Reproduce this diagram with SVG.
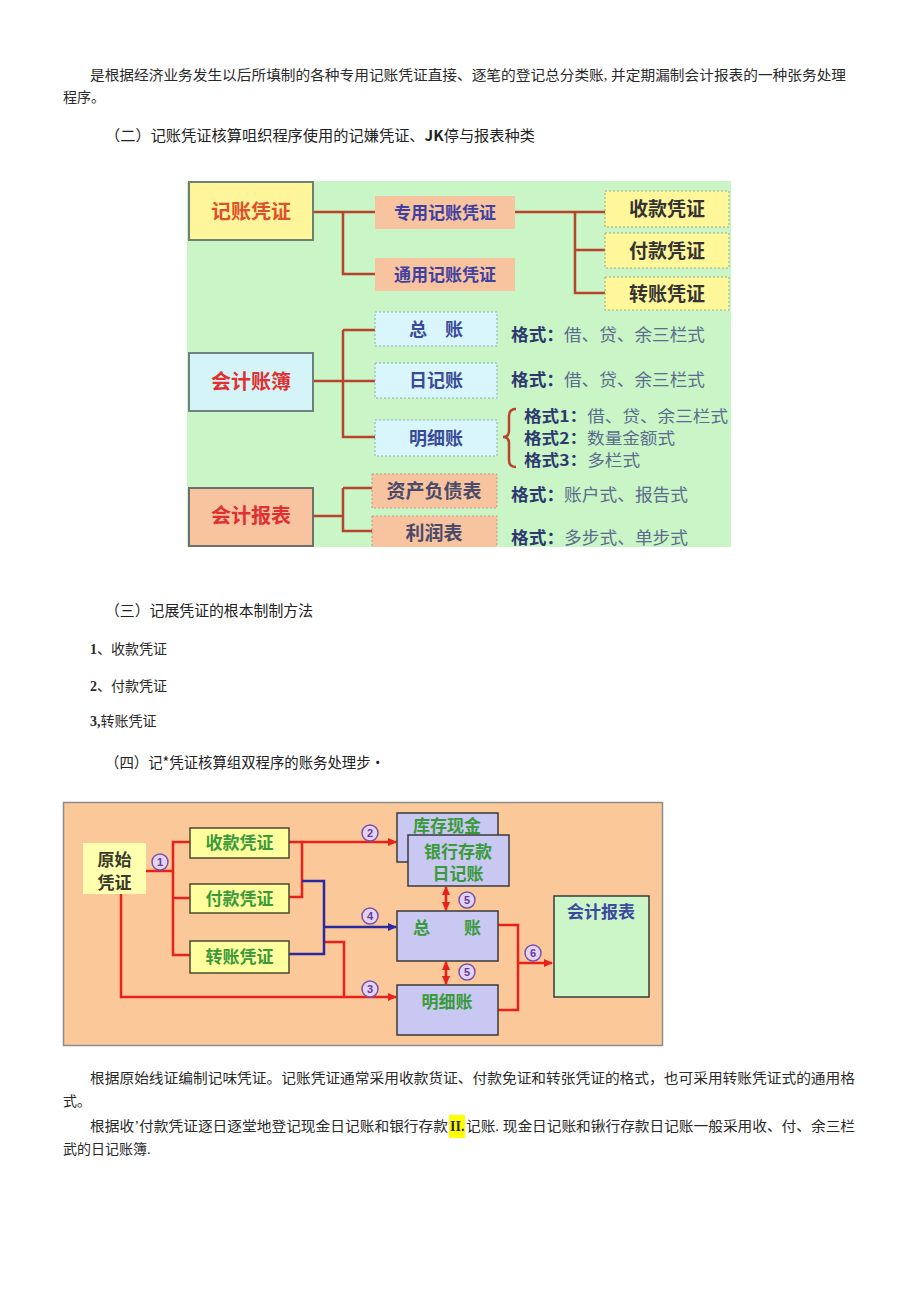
<svg xmlns="http://www.w3.org/2000/svg" width="920" height="1301" viewBox="0 0 920 1301">
<style>
.p{font-family:"Liberation Serif","Noto Sans CJK SC",serif;font-size:14px;fill:#2a2a2a}
.h{font-family:"Noto Sans CJK SC","Liberation Sans",sans-serif;font-size:15px;fill:#222}
.b1{font-family:"Noto Sans CJK SC",sans-serif;font-weight:bold;text-anchor:middle}
.fm{font-family:"Noto Sans CJK SC",sans-serif;font-size:17px;fill:#5C6C8C}
.fs{font-size:15.5px}
.fm .k{font-weight:bold;fill:#2E3A6E}
.c1{stroke:#B8442C;stroke-width:2.5;fill:none}
.red{stroke:#E8221A;stroke-width:2.5;fill:none}
.blue{stroke:#2A2AA0;stroke-width:2.5;fill:none}
.vb{fill:#FFFF9E;stroke:#4A4A30;stroke-width:1.5}
.lb{fill:#C8C8F2;stroke:#3A3A3A;stroke-width:1.5}
.gt{font-family:"Noto Sans CJK SC",sans-serif;font-weight:bold;font-size:17px;fill:#3A9A3A;text-anchor:middle}
.num circle{fill:#E2D4F4;stroke:#7A50A8;stroke-width:1.5}
.num text{font-family:"Liberation Sans",sans-serif;font-weight:bold;font-size:11px;fill:#6A3A98;text-anchor:middle}
</style>
<defs>
<marker id="ar" markerUnits="userSpaceOnUse" markerWidth="9" markerHeight="8" refX="8" refY="4" orient="auto-start-reverse"><path d="M0,0 L9,4 L0,8 z" fill="#E8221A"/></marker>
<marker id="ab" markerUnits="userSpaceOnUse" markerWidth="9" markerHeight="8" refX="8" refY="4" orient="auto"><path d="M0,0 L9,4 L0,8 z" fill="#2A2AA0"/></marker>
<clipPath id="cl1"><rect x="187" y="181" width="544" height="366"/></clipPath>
</defs>
<rect width="920" height="1301" fill="#fff"/>

<!-- paragraphs -->
<text class="p" x="90" y="80" textLength="756" lengthAdjust="spacingAndGlyphs">是根据经济业务发生以后所填制的各种专用记账凭证直接、逐笔的登记总分类账, 并定期漏制会计报表的一种张务处理</text>
<text class="p" x="63" y="102">程序。</text>
<text class="h" x="105" y="141" textLength="430" lengthAdjust="spacingAndGlyphs">（二）记账凭证核算咀织程序使用的记嫌凭证、<tspan font-weight="bold">JK</tspan>停与报表种类</text>

<!-- diagram 1 -->
<g clip-path="url(#cl1)">
<rect x="187" y="181" width="544" height="366" fill="#C9F5C7"/>
<g id="d1-connectors">
<path class="c1" d="M313 212 H375 M343 212 V274 H375 M515 212 H605 M575 212 V293 H605 M575 250 H605"/>
<path class="c1" d="M313 381 H375 M343 330 V437 H375 M343 330 H375"/>
<path class="c1" d="M313 516 H343 M343 488 V531 H372 M343 488 H372"/>
<path class="c1" stroke-width="2" d="M516 409 Q509 409 509 416 V431 Q509 437 503 437 Q509 437 509 443 V460 Q509 467 516 467"/>
</g>
<g id="n-jzpz"><rect x="189" y="182" width="124" height="58" fill="#FFF59A" stroke="#6F806F" stroke-width="2"/><text class="b1" x="251" y="219" font-size="20" fill="#E0502A">记账凭证</text></g>
<g id="n-zy"><rect x="375" y="196" width="140" height="33" fill="#F8C4A0"/><text class="b1" x="445" y="219" font-size="17" fill="#4040A0">专用记账凭证</text></g>
<g id="n-ty"><rect x="375" y="258" width="140" height="33" fill="#F8C4A0"/><text class="b1" x="445" y="281" font-size="17" fill="#4040A0">通用记账凭证</text></g>
<g id="n-sk"><rect x="605" y="191" width="124" height="36" fill="#FFF79A" stroke="#A0A880" stroke-dasharray="2 2"/><text class="b1" x="667" y="216" font-size="19" fill="#333">收款凭证</text></g>
<g id="n-fk"><rect x="605" y="233" width="124" height="35" fill="#FFF79A" stroke="#A0A880" stroke-dasharray="2 2"/><text class="b1" x="667" y="258" font-size="19" fill="#333">付款凭证</text></g>
<g id="n-zz"><rect x="605" y="277" width="124" height="33" fill="#FFF79A" stroke="#A0A880" stroke-dasharray="2 2"/><text class="b1" x="667" y="301" font-size="19" fill="#333">转账凭证</text></g>

<g id="n-kjzb"><rect x="189" y="353" width="124" height="58" fill="#D5F4F8" stroke="#6F8080" stroke-width="2"/><text class="b1" x="251" y="389" font-size="20" fill="#E03030">会计账簿</text></g>
<g id="n-zong"><rect x="375" y="312" width="122" height="34" fill="#D8F6FB" stroke="#90AAB0" stroke-dasharray="2 2"/><text class="b1" x="436" y="336" font-size="18" fill="#3A4A9A">总　账</text></g>
<g id="n-rj"><rect x="375" y="363" width="122" height="35" fill="#D8F6FB" stroke="#90AAB0" stroke-dasharray="2 2"/><text class="b1" x="436" y="387" font-size="18" fill="#3A4A9A">日记账</text></g>
<g id="n-mx"><rect x="375" y="420" width="122" height="36" fill="#D8F6FB" stroke="#90AAB0" stroke-dasharray="2 2"/><text class="b1" x="436" y="445" font-size="18" fill="#3A4A9A">明细账</text></g>
<text class="fm" x="511" y="341" textLength="194" lengthAdjust="spacingAndGlyphs"><tspan class="k">格式：</tspan>借、贷、余三栏式</text>
<text class="fm" x="511" y="386" textLength="194" lengthAdjust="spacingAndGlyphs"><tspan class="k">格式：</tspan>借、贷、余三栏式</text>
<text class="fm fs" x="524" y="422" textLength="204" lengthAdjust="spacingAndGlyphs"><tspan class="k">格式1：</tspan>借、贷、余三栏式</text>
<text class="fm fs" x="524" y="444" textLength="151" lengthAdjust="spacingAndGlyphs"><tspan class="k">格式2：</tspan>数量金额式</text>
<text class="fm fs" x="524" y="466" textLength="116" lengthAdjust="spacingAndGlyphs"><tspan class="k">格式3：</tspan>多栏式</text>

<g id="n-kjbb"><rect x="189" y="488" width="124" height="58" fill="#F8C4A0" stroke="#6F6F6F" stroke-width="2"/><text class="b1" x="251" y="523" font-size="20" fill="#E03030">会计报表</text></g>
<g id="n-zcfz"><rect x="372" y="474" width="125" height="34" fill="#F8C4A0" stroke="#C09880" stroke-dasharray="2 2"/><text class="b1" x="434" y="498" font-size="19" fill="#4A4A6A">资产负债表</text></g>
<g id="n-lr"><rect x="372" y="516" width="125" height="36" fill="#F8C4A0" stroke="#C09880" stroke-dasharray="2 2"/><text class="b1" x="434" y="540" font-size="19" fill="#4A4A6A">利润表</text></g>
<text class="fm" x="511" y="501" textLength="177" lengthAdjust="spacingAndGlyphs"><tspan class="k">格式：</tspan>账户式、报告式</text>
<text class="fm" x="511" y="544" textLength="177" lengthAdjust="spacingAndGlyphs"><tspan class="k">格式：</tspan>多步式、单步式</text>
</g>

<text class="h" x="105" y="616" textLength="208" lengthAdjust="spacingAndGlyphs">（三）记展凭证的根本制制方法</text>
<text class="p" x="90" y="654"><tspan font-weight="bold">1</tspan>、收款凭证</text>
<text class="p" x="90" y="691"><tspan font-weight="bold">2</tspan>、付款凭证</text>
<text class="p" x="90" y="726"><tspan font-weight="bold">3,</tspan>转账凭证</text>
<text class="h" x="105" y="768" textLength="280" lengthAdjust="spacingAndGlyphs">（四）记*凭证核算组双程序的账务处理步·</text>

<!-- diagram 2 -->
<rect x="63.5" y="802.5" width="599" height="243" fill="#FBC89A" stroke="#8C8C8C" stroke-width="1.5"/>
<g id="d2-connectors">
<path class="red" d="M146 871 H173 M191 842 H173 V955 H191 M173 898 H191"/>
<path class="red" d="M289 842 H302 V897 H289"/>
<path class="red" d="M302 842 H396" marker-end="url(#ar)"/>
<path class="red" d="M121 894 V997 H396" marker-end="url(#ar)"/>
<path class="red" d="M324 942 H344 V997"/>
<path class="blue" d="M302 881 H324 V954 H289"/>
<path class="blue" d="M324 927 H396" marker-end="url(#ab)"/>
<path class="red" d="M446 887 V910" marker-start="url(#ar)" marker-end="url(#ar)"/>
<path class="red" d="M446 962 V984" marker-start="url(#ar)" marker-end="url(#ar)"/>
<path class="red" d="M498 925 H518 V1010 H498 M518 963 H552" marker-end="url(#ar)"/>
</g>
<g id="n-ysp"><rect x="83" y="843" width="63" height="51" fill="#FFFFB0"/><text class="b1" x="114.5" y="866" font-size="17" fill="#3A3A2A">原始</text><text class="b1" x="114.5" y="889" font-size="17" fill="#3A3A2A">凭证</text></g>
<g id="n2-sk"><rect class="vb" x="190" y="828" width="99" height="30"/><text class="gt" x="239.5" y="849">收款凭证</text></g>
<g id="n2-fk"><rect class="vb" x="190" y="884" width="99" height="29"/><text class="gt" x="239.5" y="905">付款凭证</text></g>
<g id="n2-zz"><rect class="vb" x="190" y="941" width="99" height="32"/><text class="gt" x="239.5" y="963">转账凭证</text></g>
<g id="n2-kcxj"><rect class="lb" x="397" y="813" width="101" height="49"/><text class="gt" x="447" y="832" font-size="16">库存现金</text></g>
<g id="n2-yhck"><rect class="lb" x="408" y="835" width="101" height="51"/><text class="gt" x="458" y="858">银行存款</text><text class="gt" x="458" y="880">日记账</text></g>
<g id="n2-zong"><rect class="lb" x="397" y="911" width="101" height="50"/><text class="gt" x="447" y="934">总　　账</text></g>
<g id="n2-mx"><rect class="lb" x="397" y="985" width="101" height="50"/><text class="gt" x="447" y="1008">明细账</text></g>
<g id="n2-kjbb"><rect x="554" y="896" width="95" height="101" fill="#CCF5C8" stroke="#3A3A3A" stroke-width="1.5"/><text class="b1" x="601" y="918" font-size="17" fill="#3A4AA0">会计报表</text></g>
<g id="d2-numbers" class="num">
<circle cx="160" cy="862" r="8"/><text x="160" y="866">1</text>
<circle cx="370" cy="833" r="8"/><text x="370" y="837">2</text>
<circle cx="370" cy="916" r="8"/><text x="370" y="920">4</text>
<circle cx="370" cy="989" r="8"/><text x="370" y="993">3</text>
<circle cx="467" cy="900" r="8"/><text x="467" y="904">5</text>
<circle cx="467" cy="972" r="8"/><text x="467" y="976">5</text>
<circle cx="533" cy="953" r="8"/><text x="533" y="957">6</text>
</g>

<text class="p" x="90" y="1083" textLength="765" lengthAdjust="spacingAndGlyphs">根据原始线证编制记味凭证。记账凭证通常采用收款货证、付款免证和转张凭证的格式，也可采用转账凭证式的通用格</text>
<text class="p" x="63" y="1106">式。</text>
<rect x="449" y="1115" width="16" height="23" fill="#FFFF00"/>
<text class="p" x="90" y="1131" textLength="358" lengthAdjust="spacingAndGlyphs">根据收’付款凭证逐日逐堂地登记现金日记账和银行存款</text>
<text class="p" x="450" y="1131" font-weight="bold">II.</text>
<text class="p" x="466" y="1131" textLength="389" lengthAdjust="spacingAndGlyphs">记账. 现金日记账和锹行存款日记账一般采用收、付、余三栏</text>
<text class="p" x="63" y="1154">武的日记账簿.</text>
</svg>
